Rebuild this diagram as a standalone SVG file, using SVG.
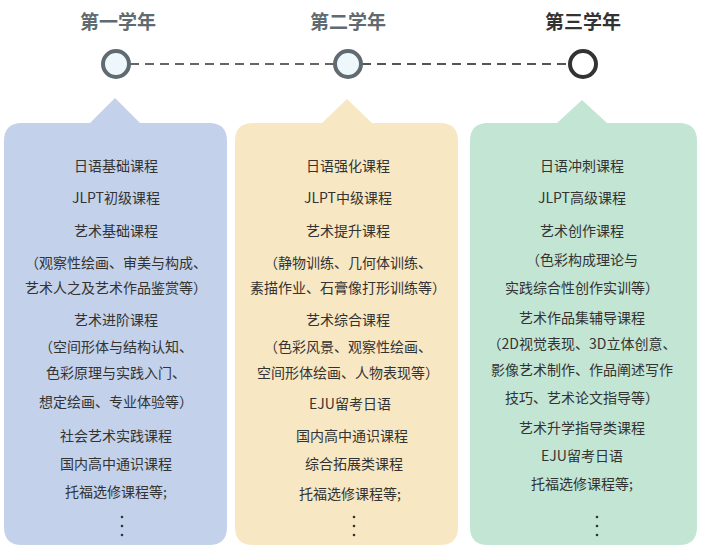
<svg xmlns="http://www.w3.org/2000/svg" width="704" height="551" viewBox="0 0 704 551">
<style>
.t{font-family:"Noto Sans CJK SC","Liberation Sans",sans-serif;font-size:19px;font-weight:bold;fill:#5f6b70;text-anchor:middle}
.l{font-family:"Noto Sans CJK SC","Liberation Sans",sans-serif;font-size:14px;fill:#333;text-anchor:middle}
.c{stroke:#5f6b70;stroke-width:4;fill:#eef8fc}
</style>
<rect width="704" height="551" fill="#fff"/>
<g id="connectors"><line x1="130" y1="64" x2="334" y2="64" stroke="#666" stroke-width="2" stroke-dasharray="9,6"/><line x1="362" y1="64" x2="569" y2="64" stroke="#555" stroke-width="2" stroke-dasharray="9,6"/></g>
<g id="y1"><text class="t" x="118" y="29">第一学年</text><circle class="c" cx="116" cy="64" r="13"/>
<path d="M22 123H90L115 98L140 123H209Q227 123 227 141V527Q227 545 209 545H22Q4 545 4 527V141Q4 123 22 123Z" fill="#c3d1ea"/>
<text class="l" x="116" y="171">日语基础课程</text><text class="l" x="116" y="203">JLPT初级课程</text><text class="l" x="116" y="236">艺术基础课程</text><text class="l" x="116" y="268">（观察性绘画、审美与构成、</text><text class="l" x="116" y="293">艺术人之及艺术作品鉴赏等）</text><text class="l" x="116" y="325">艺术进阶课程</text><text class="l" x="116" y="352">（空间形体与结构认知、</text><text class="l" x="116" y="378">色彩原理与实践入门、</text><text class="l" x="116" y="407">想定绘画、专业体验等）</text><text class="l" x="116" y="441">社会艺术实践课程</text><text class="l" x="116" y="469">国内高中通识课程</text><text class="l" x="116" y="497">托福选修课程等;</text>
<g fill="#333"><circle cx="122" cy="517" r="1.3"/><circle cx="122" cy="526" r="1.3"/><circle cx="122" cy="535" r="1.3"/></g></g>
<g id="y2"><text class="t" x="348" y="29">第二学年</text><circle class="c" cx="348" cy="64" r="13"/>
<path d="M253 123H322L347 99L372 123H440Q458 123 458 141V527Q458 545 440 545H253Q235 545 235 527V141Q235 123 253 123Z" fill="#f8e7c3"/>
<text class="l" x="348" y="171">日语强化课程</text><text class="l" x="348" y="203">JLPT中级课程</text><text class="l" x="348" y="236">艺术提升课程</text><text class="l" x="348" y="268">（静物训练、几何体训练、</text><text class="l" x="348" y="293">素描作业、石膏像打形训练等）</text><text class="l" x="348" y="325">艺术综合课程</text><text class="l" x="348" y="352">（色彩风景、观察性绘画、</text><text class="l" x="348" y="378">空间形体绘画、人物表现等）</text><text class="l" x="350" y="409">EJU留考日语</text><text class="l" x="352" y="441">国内高中通识课程</text><text class="l" x="354" y="469">综合拓展类课程</text><text class="l" x="350" y="499">托福选修课程等;</text>
<g fill="#333"><circle cx="354" cy="517" r="1.3"/><circle cx="354" cy="526" r="1.3"/><circle cx="354" cy="535" r="1.3"/></g></g>
<g id="y3"><text class="t" x="583" y="29" style="fill:#333">第三学年</text><circle class="c" cx="583" cy="64" r="13" style="stroke:#333;fill:#fff"/>
<path d="M488 123H557L582 100L607 123H679Q697 123 697 141V527Q697 545 679 545H488Q470 545 470 527V141Q470 123 488 123Z" fill="#c3e5d3"/>
<text class="l" x="582" y="171">日语冲刺课程</text><text class="l" x="582" y="203">JLPT高级课程</text><text class="l" x="582" y="236">艺术创作课程</text><text class="l" x="582" y="265">（色彩构成理论与</text><text class="l" x="582" y="293">实践综合性创作实训等）</text><text class="l" x="582" y="323">艺术作品集辅导课程</text><text class="l" x="582" y="349">（2D视觉表现、3D立体创意、</text><text class="l" x="582" y="375">影像艺术制作、作品阐述写作</text><text class="l" x="582" y="403">技巧、艺术论文指导等）</text><text class="l" x="582" y="433">艺术升学指导类课程</text><text class="l" x="582" y="461">EJU留考日语</text><text class="l" x="582" y="489">托福选修课程等;</text>
<g fill="#333"><circle cx="597" cy="517" r="1.3"/><circle cx="597" cy="526" r="1.3"/><circle cx="597" cy="535" r="1.3"/></g></g>
</svg>
